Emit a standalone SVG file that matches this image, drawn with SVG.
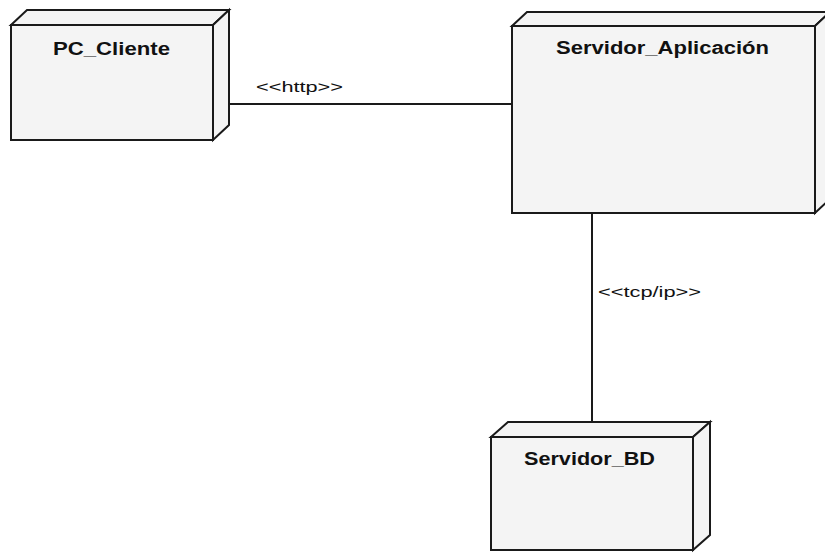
<svg xmlns="http://www.w3.org/2000/svg" width="825" height="559" viewBox="0 0 825 559">
<style>
.face{fill:#f4f4f4;stroke:#1a1a1a;stroke-width:2;stroke-linejoin:miter}
.title{font-family:"Liberation Sans",Arial,sans-serif;font-weight:bold;font-size:18px;fill:#111}
.lbl{font-family:"Liberation Sans",Arial,sans-serif;font-size:14px;fill:#111}
.conn{stroke:#1a1a1a;stroke-width:2;fill:none}
</style>
<rect width="825" height="559" fill="#ffffff"/>
<g id="connectors">
<line class="conn" x1="213" y1="104" x2="512" y2="104"/>
<text class="lbl" x="256" y="92" textLength="87" lengthAdjust="spacingAndGlyphs">&lt;&lt;http&gt;&gt;</text>
<line class="conn" x1="592" y1="213" x2="592" y2="422"/>
<text class="lbl" x="598" y="297" textLength="103" lengthAdjust="spacingAndGlyphs">&lt;&lt;tcp/ip&gt;&gt;</text>
</g>
<g id="pc_cliente">
<polygon class="face" points="11,25 27,10 229,10 213,25"/>
<polygon class="face" points="213,25 229,10 229,125 213,140"/>
<rect class="face" x="11" y="25" width="202" height="115"/>
<text class="title" x="53" y="55" textLength="117" lengthAdjust="spacingAndGlyphs">PC_Cliente</text>
</g>
<g id="servidor_aplicacion">
<polygon class="face" points="512,26 527,12 830,12 815,26"/>
<polygon class="face" points="815,26 830,12 830,199 815,213"/>
<rect class="face" x="512" y="26" width="303" height="187"/>
<text class="title" x="556" y="54" textLength="213" lengthAdjust="spacingAndGlyphs">Servidor_Aplicación</text>
</g>
<g id="servidor_bd">
<polygon class="face" points="491,437 508,422 710,422 693,437"/>
<polygon class="face" points="693,437 710,422 710,535 693,550"/>
<rect class="face" x="491" y="437" width="202" height="113"/>
<text class="title" x="524" y="465" textLength="131" lengthAdjust="spacingAndGlyphs">Servidor_BD</text>
</g>
</svg>
